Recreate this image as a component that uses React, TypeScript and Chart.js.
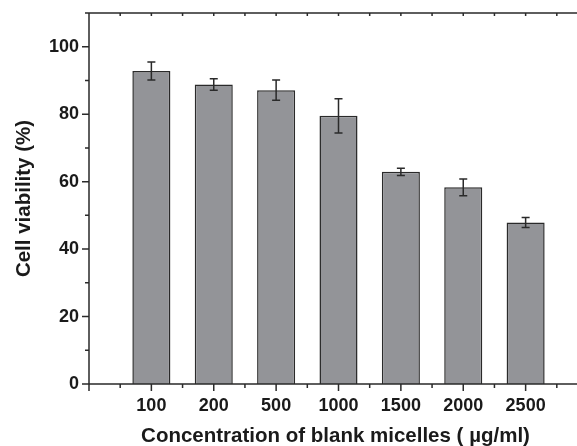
import React, { useEffect, useRef } from "react";
import { Chart, registerables } from "chart.js";

Chart.register(...registerables);

const categories = ["100", "200", "500", "1000", "1500", "2000", "2500"];
const viability = [92.8, 88.8, 87.1, 79.5, 62.9, 58.3, 47.9];
const errors = [2.7, 1.7, 3.0, 5.1, 1.1, 2.5, 1.5];
const yTicks = [0, 20, 40, 60, 80, 100];

const FONT = '"Liberation Sans", Arial, Helvetica, sans-serif';
const INK = "#2a2a2a";

const decorPlugin = {
  id: "decor",
  afterDatasetsDraw(chart: any) {
    const { ctx, chartArea: a, scales } = chart;
    const x = scales.x;
    const y = scales.y;
    ctx.save();
    ctx.strokeStyle = INK;
    ctx.lineWidth = 1.5;
    // error bars
    viability.forEach((m, i) => {
      const px = x.getPixelForValue(i);
      const t = y.getPixelForValue(m + errors[i]);
      const b = y.getPixelForValue(m - errors[i]);
      ctx.beginPath();
      ctx.moveTo(px, t);
      ctx.lineTo(px, b);
      ctx.moveTo(px - 4, t);
      ctx.lineTo(px + 4, t);
      ctx.moveTo(px - 4, b);
      ctx.lineTo(px + 4, b);
      ctx.stroke();
    });
    // axis lines
    ctx.beginPath();
    ctx.moveTo(a.left, a.top);
    ctx.lineTo(a.left, a.bottom);
    ctx.moveTo(a.left, a.bottom);
    ctx.lineTo(a.right, a.bottom);
    ctx.moveTo(a.left, a.top);
    ctx.lineTo(a.right, a.top);
    ctx.stroke();
    // x ticks
    ctx.beginPath();
    for (let v = x.min; v <= x.max + 1e-6; v += 0.5) {
      const px = x.getPixelForValue(v);
      const major = Math.abs(v - Math.round(v)) < 1e-6;
      ctx.moveTo(px, a.bottom);
      ctx.lineTo(px, a.bottom + (major ? 7 : 4));
      if (v > x.min + 1e-6) {
        ctx.moveTo(px, a.top);
        ctx.lineTo(px, a.top + 3);
      }
    }
    // y ticks
    for (let v = 0; v <= y.max + 1e-6; v += 10) {
      const py = y.getPixelForValue(v);
      const major = v % 20 === 0;
      ctx.moveTo(a.left, py);
      ctx.lineTo(a.left - (major ? 7 : 4), py);
    }
    ctx.stroke();
    // x title
    ctx.fillStyle = "#1a1a1a";
    ctx.font = `bold 20.5px ${FONT}`;
    ctx.textAlign = "center";
    ctx.textBaseline = "alphabetic";
    ctx.fillText("Concentration of blank micelles ( µg/ml)", 335.5, 441.5);
    ctx.restore();
  },
};

export default function App() {
  const ref = useRef<HTMLCanvasElement>(null);
  useEffect(() => {
    if (!ref.current) return;
    const chart = new Chart(ref.current, {
      type: "bar",
      data: {
        datasets: [
          {
            label: "Cell viability",
            data: viability.map((v, i) => ({ x: i, y: v })),
            backgroundColor: "#939498",
            borderColor: INK,
            borderWidth: 1.5,
            barPercentage: 0.61,
            categoryPercentage: 1,
          },
        ],
      },
      options: {
        responsive: false,
        animation: false,
        layout: { padding: { top: 13, right: 2, left: 0, bottom: 0 } },
        plugins: { legend: { display: false }, tooltip: { enabled: false } },
        scales: {
          x: {
            type: "linear",
            min: -1,
            max: 7,
            offset: false,
            grid: { display: false, drawTicks: false, offset: false },
            border: { display: false },
            afterBuildTicks: (s: any) => {
              s.ticks = categories.map((_, i) => ({ value: i }));
            },
            afterFit: (s: any) => {
              s.height = 62;
              s.paddingLeft = 0;
              s.paddingRight = 0;
            },
            ticks: {
              padding: 11,
              maxRotation: 0,
              autoSkip: false,
              color: "#1a1a1a",
              font: { family: FONT, size: 18, weight: "bold" },
              callback: (v: any) => categories[Math.round(Number(v))] ?? "",
            },
          },
          y: {
            min: 0,
            max: 110,
            grid: { display: false, drawTicks: false },
            border: { display: false },
            afterBuildTicks: (s: any) => {
              s.ticks = yTicks.map((v) => ({ value: v }));
            },
            afterFit: (s: any) => {
              s.width = 89;
              s.paddingTop = 0;
              s.paddingBottom = 0;
            },
            ticks: {
              padding: 10,
              color: "#1a1a1a",
              font: { family: FONT, size: 18, weight: "bold" },
            },
            title: {
              display: true,
              text: "Cell viability (%)",
              color: "#1a1a1a",
              font: { family: FONT, size: 20.5, weight: "bold" },
              padding: { top: 12, bottom: 0 },
            },
          },
        },
      },
      plugins: [decorPlugin],
    } as any);
    return () => chart.destroy();
  }, []);
  return (
    <div
      style={{
        position: "fixed",
        left: 0,
        top: 0,
        width: 577,
        height: 446,
        overflow: "hidden",
        background: "#fff",
      }}
    >
      <canvas ref={ref} width={590} height={446} style={{ display: "block" }} />
    </div>
  );
}
